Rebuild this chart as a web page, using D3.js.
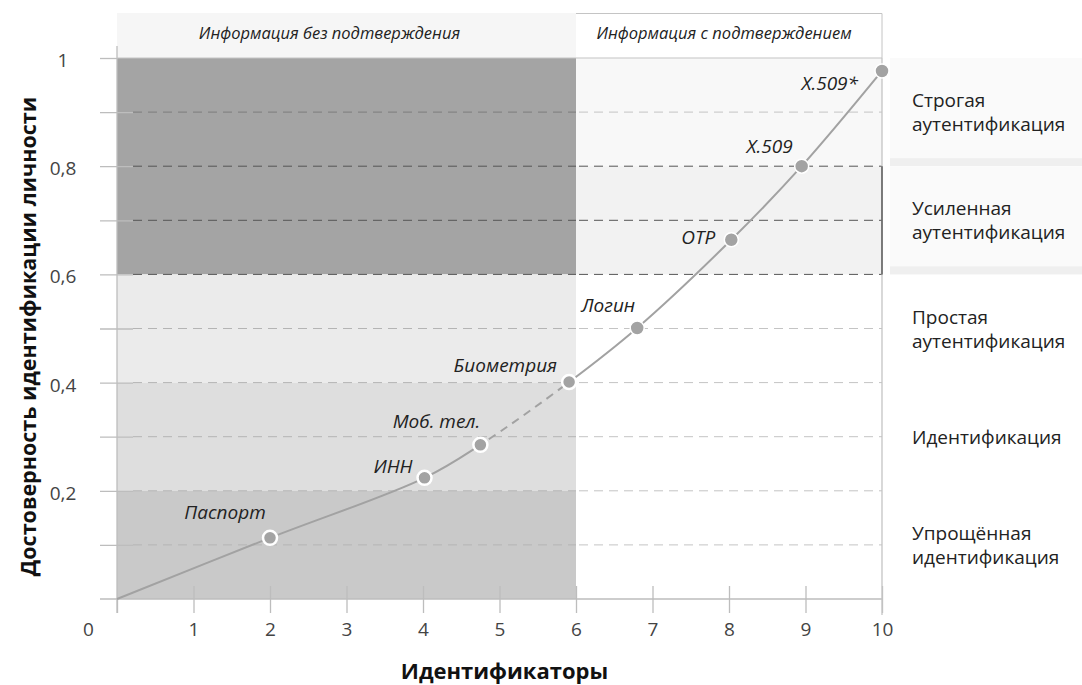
<!DOCTYPE html>
<html>
<head>
<meta charset="utf-8">
<script src="https://cdn.jsdelivr.net/npm/d3@7"></script>
<style>
  html, body { margin: 0; padding: 0; background: #fff; }
  svg { display: block; font-family: "Open Sans", sans-serif; }
</style>
</head>
<body>
<svg id="chart" width="1082" height="685"></svg>
<script>
// ---- data ----
const identifiers = ["Паспорт", "ИНН", "Моб. тел.", "Биометрия", "Логин", "OTP", "X.509", "X.509*"];
const idX = [2, 4.02, 4.75, 5.91, 6.8, 8.03, 8.95, 10];
const idY = [0.113, 0.224, 0.285, 0.401, 0.501, 0.664, 0.80, 0.976];
const originX = 0, originY = 0;
const xTicks = [0, 1, 2, 3, 4, 5, 6, 7, 8, 9, 10];
const yTicks = [0.1, 0.2, 0.3, 0.4, 0.5, 0.6, 0.7, 0.8, 0.9, 1];
const yTickLabels = ["", "0,2", "", "0,4", "", "0,6", "", "0,8", "", "1"];
const headerLabels = ["Информация без подтверждения", "Информация с подтверждением"];
const levelLabels = [
  ["Строгая", "аутентификация"],
  ["Усиленная", "аутентификация"],
  ["Простая", "аутентификация"],
  ["Идентификация"],
  ["Упрощённая", "идентификация"]
];
const levelCenters = [0.9, 0.7, 0.5, 0.3, 0.1];
const xTitle = "Идентификаторы";
const yTitle = "Достоверность идентификации личности";
const dashedFrom = 4.75, dashedTo = 5.91;

// ---- layout (label placement relative to points) ----
const labelLayout = [
  {dx: -45, dy: -19, anchor: "middle"},
  {dx: -12, dy: -5, anchor: "end"},
  {dx: 0, dy: -17, anchor: "end"},
  {dx: -12, dy: -10, anchor: "end"},
  {dx: -2, dy: -16, anchor: "end"},
  {dx: -16, dy: 4, anchor: "end"},
  {dx: -9, dy: -13, anchor: "end"},
  {dx: -24, dy: 19, anchor: "end"}
];

const svg = d3.select("#chart");
const x = d3.scaleLinear().domain([0, 10]).range([117, 882]);
const y = d3.scaleLinear().domain([0, 1]).range([599, 58]);

// ---- header ----
svg.append("rect").attr("x", x(0)).attr("y", 13).attr("width", x(6) - x(0)).attr("height", y(1) - 13).attr("fill", "#f6f6f6");
svg.append("rect").attr("x", x(6)).attr("y", 13).attr("width", x(10) - x(6)).attr("height", y(1) - 13).attr("fill", "#fff");
svg.append("path").attr("d", `M${x(6)},13.5H${x(10)}V${y(1)}`).attr("fill", "none").attr("stroke", "#c4c4c4").attr("stroke-width", 1);
svg.selectAll("text.header").data(headerLabels).join("text")
  .attr("class", "header")
  .attr("x", (d, i) => i === 0 ? (x(0) + x(6)) / 2 - 17 : (x(6) + x(10)) / 2 - 5)
  .attr("y", 39)
  .attr("text-anchor", "middle")
  .attr("font-style", "italic")
  .attr("font-size", 16.5)
  .attr("fill", "#222")
  .text(d => d);

// ---- background bands ----
const bands = [
  {x0: 0, x1: 6, y0: 0.6, y1: 1, c: "#a4a4a4"},
  {x0: 0, x1: 6, y0: 0.4, y1: 0.6, c: "#ebebeb"},
  {x0: 0, x1: 6, y0: 0.2, y1: 0.4, c: "#dedede"},
  {x0: 0, x1: 6, y0: 0, y1: 0.2, c: "#c9c9c9"},
  {x0: 6, x1: 10, y0: 0.8, y1: 1, c: "#f8f8f8"},
  {x0: 6, x1: 10, y0: 0.6, y1: 0.8, c: "#f2f2f2"}
];
svg.selectAll("rect.band").data(bands).join("rect")
  .attr("class", "band")
  .attr("x", d => x(d.x0)).attr("width", d => x(d.x1) - x(d.x0))
  .attr("y", d => y(d.y1)).attr("height", d => y(d.y0) - y(d.y1))
  .attr("fill", d => d.c);

// right label panels
const panelX = x(10) + 8;
[[1, 0.8], [0.8, 0.6]].forEach(([a, b]) => {
  svg.append("rect").attr("x", panelX).attr("y", y(a)).attr("width", 1082 - panelX).attr("height", y(b) - y(a)).attr("fill", "#fafafa");
  svg.append("rect").attr("x", panelX).attr("y", y(b) - 8).attr("width", 1082 - panelX).attr("height", 8).attr("fill", "#efefef");
});

// ---- grid lines ----
const grid = svg.append("g");
yTicks.filter(v => v < 1).forEach(v => {
  const strong = v >= 0.59 && v <= 0.81;
  const leftDark = v >= 0.6;
  grid.append("line")
    .attr("x1", x(0) + 16).attr("x2", x(6)).attr("y1", y(v)).attr("y2", y(v))
    .attr("stroke", strong ? "#555" : (leftDark ? "#7c7c7c" : "#b4b4b4"))
    .attr("stroke-width", 1).attr("stroke-dasharray", "9,6");
  grid.append("line")
    .attr("x1", x(6) + 3).attr("x2", x(10)).attr("y1", y(v)).attr("y2", y(v))
    .attr("stroke", strong ? "#555" : "#c4c4c4")
    .attr("stroke-width", 1).attr("stroke-dasharray", "9,6");
});

// ---- axes ----
const xAxis = svg.append("g").attr("transform", `translate(0,${y(0)})`)
  .call(d3.axisBottom(x).tickValues(xTicks).tickSize(14).tickPadding(0).tickFormat(d3.format("d")));
xAxis.select(".domain").remove();
xAxis.selectAll(".tick line").attr("y1", d => d === 0 ? 0 : -13).attr("y2", 14).attr("stroke", "#bdbdbd").attr("stroke-width", 1.3);
xAxis.selectAll(".tick text").attr("y", 24).attr("dx", d => d === 0 ? -29 : 0)
  .attr("font-size", 19).attr("fill", "#444").attr("font-family", "Open Sans");
svg.append("line").attr("x1", 100).attr("x2", x(10)).attr("y1", y(0)).attr("y2", y(0)).attr("stroke", "#bdbdbd").attr("stroke-width", 1.3);

const yAxis = svg.append("g").attr("transform", `translate(${x(0)},0)`)
  .call(d3.axisLeft(y).tickValues(yTicks).tickSize(17).tickPadding(0).tickFormat((d, i) => yTickLabels[i]));
yAxis.select(".domain").remove();
yAxis.selectAll(".tick line").attr("x1", -17).attr("x2", d => d >= 1 ? 0 : 16).attr("stroke", "#bdbdbd").attr("stroke-width", 1.3);
yAxis.selectAll(".tick text").attr("x", -54).attr("dy", "0.45em").attr("text-anchor", "middle")
  .attr("font-size", 19).attr("fill", "#444").attr("font-family", "Open Sans");
svg.append("line").attr("x1", x(0)).attr("x2", x(0)).attr("y1", 46).attr("y2", 613).attr("stroke", "#bdbdbd").attr("stroke-width", 1.3);

// plot top and right border
svg.append("line").attr("x1", x(0)).attr("x2", x(10)).attr("y1", y(1)).attr("y2", y(1)).attr("stroke", "#c4c4c4").attr("stroke-width", 1.2);
svg.append("line").attr("x1", x(10)).attr("x2", x(10)).attr("y1", y(1)).attr("y2", 615).attr("stroke", "#c4c4c4").attr("stroke-width", 1.3);
svg.append("line").attr("x1", x(10)).attr("x2", x(10)).attr("y1", y(0.8)).attr("y2", y(0.6)).attr("stroke", "#555").attr("stroke-width", 1.4);

// ---- curve ----
const pts = [[originX, originY]].concat(idX.map((v, i) => [v, idY[i]]));
const line = d3.line().x(d => x(d[0])).y(d => y(d[1])).curve(d3.curveCatmullRom.alpha(0.5));
const defs = svg.append("defs");
defs.append("clipPath").attr("id", "solidA").append("rect").attr("x", 0).attr("y", 0).attr("width", x(dashedFrom)).attr("height", 685);
defs.append("clipPath").attr("id", "solidB").append("rect").attr("x", x(dashedTo)).attr("y", 0).attr("width", 1082 - x(dashedTo)).attr("height", 685);
defs.append("clipPath").attr("id", "dashed").append("rect").attr("x", x(dashedFrom)).attr("y", 0).attr("width", x(dashedTo) - x(dashedFrom)).attr("height", 685);
["solidA", "solidB"].forEach(id => {
  svg.append("path").datum(pts).attr("d", line).attr("fill", "none").attr("stroke", "#a2a2a2").attr("stroke-width", 2).attr("clip-path", `url(#${id})`);
});
svg.append("path").datum(pts).attr("d", line).attr("fill", "none").attr("stroke", "#a2a2a2").attr("stroke-width", 2)
  .attr("stroke-dasharray", "8,6").attr("clip-path", "url(#dashed)");

// ---- points ----
svg.selectAll("circle.pt").data(identifiers).join("circle")
  .attr("class", "pt")
  .attr("cx", (d, i) => x(idX[i])).attr("cy", (d, i) => y(idY[i]))
  .attr("r", 7)
  .attr("fill", "#a3a3a3")
  .attr("stroke", "#fff").attr("stroke-width", (d, i) => i < 4 ? 2.5 : 1.5);

svg.selectAll("text.pl").data(identifiers).join("text")
  .attr("class", "pl")
  .attr("x", (d, i) => x(idX[i]) + labelLayout[i].dx)
  .attr("y", (d, i) => y(idY[i]) + labelLayout[i].dy)
  .attr("text-anchor", (d, i) => labelLayout[i].anchor)
  .attr("font-style", "italic").attr("font-size", 19).attr("fill", "#222")
  .text(d => d);

// ---- right level labels ----
levelLabels.forEach((lines, i) => {
  const t = svg.append("text").attr("x", 912).attr("font-size", 19).attr("fill", "#222");
  const cy = y(levelCenters[i]);
  const n = lines.length;
  lines.forEach((s, j) => {
    t.append("tspan").attr("x", 912).attr("y", cy + 7 + (j - (n - 1) / 2) * 24).text(s);
  });
});

// ---- axis titles ----
svg.append("text").attr("x", (x(0) + x(10)) / 2 + 5).attr("y", 679).attr("text-anchor", "middle")
  .attr("font-weight", "bold").attr("font-size", 22).attr("fill", "#111").text(xTitle);
svg.append("text").attr("transform", `translate(36,${(95 + 578) / 2}) rotate(-90)`).attr("text-anchor", "middle")
  .attr("font-weight", "bold").attr("font-size", 21.5).attr("fill", "#111").text(yTitle);
</script>
</body>
</html>
